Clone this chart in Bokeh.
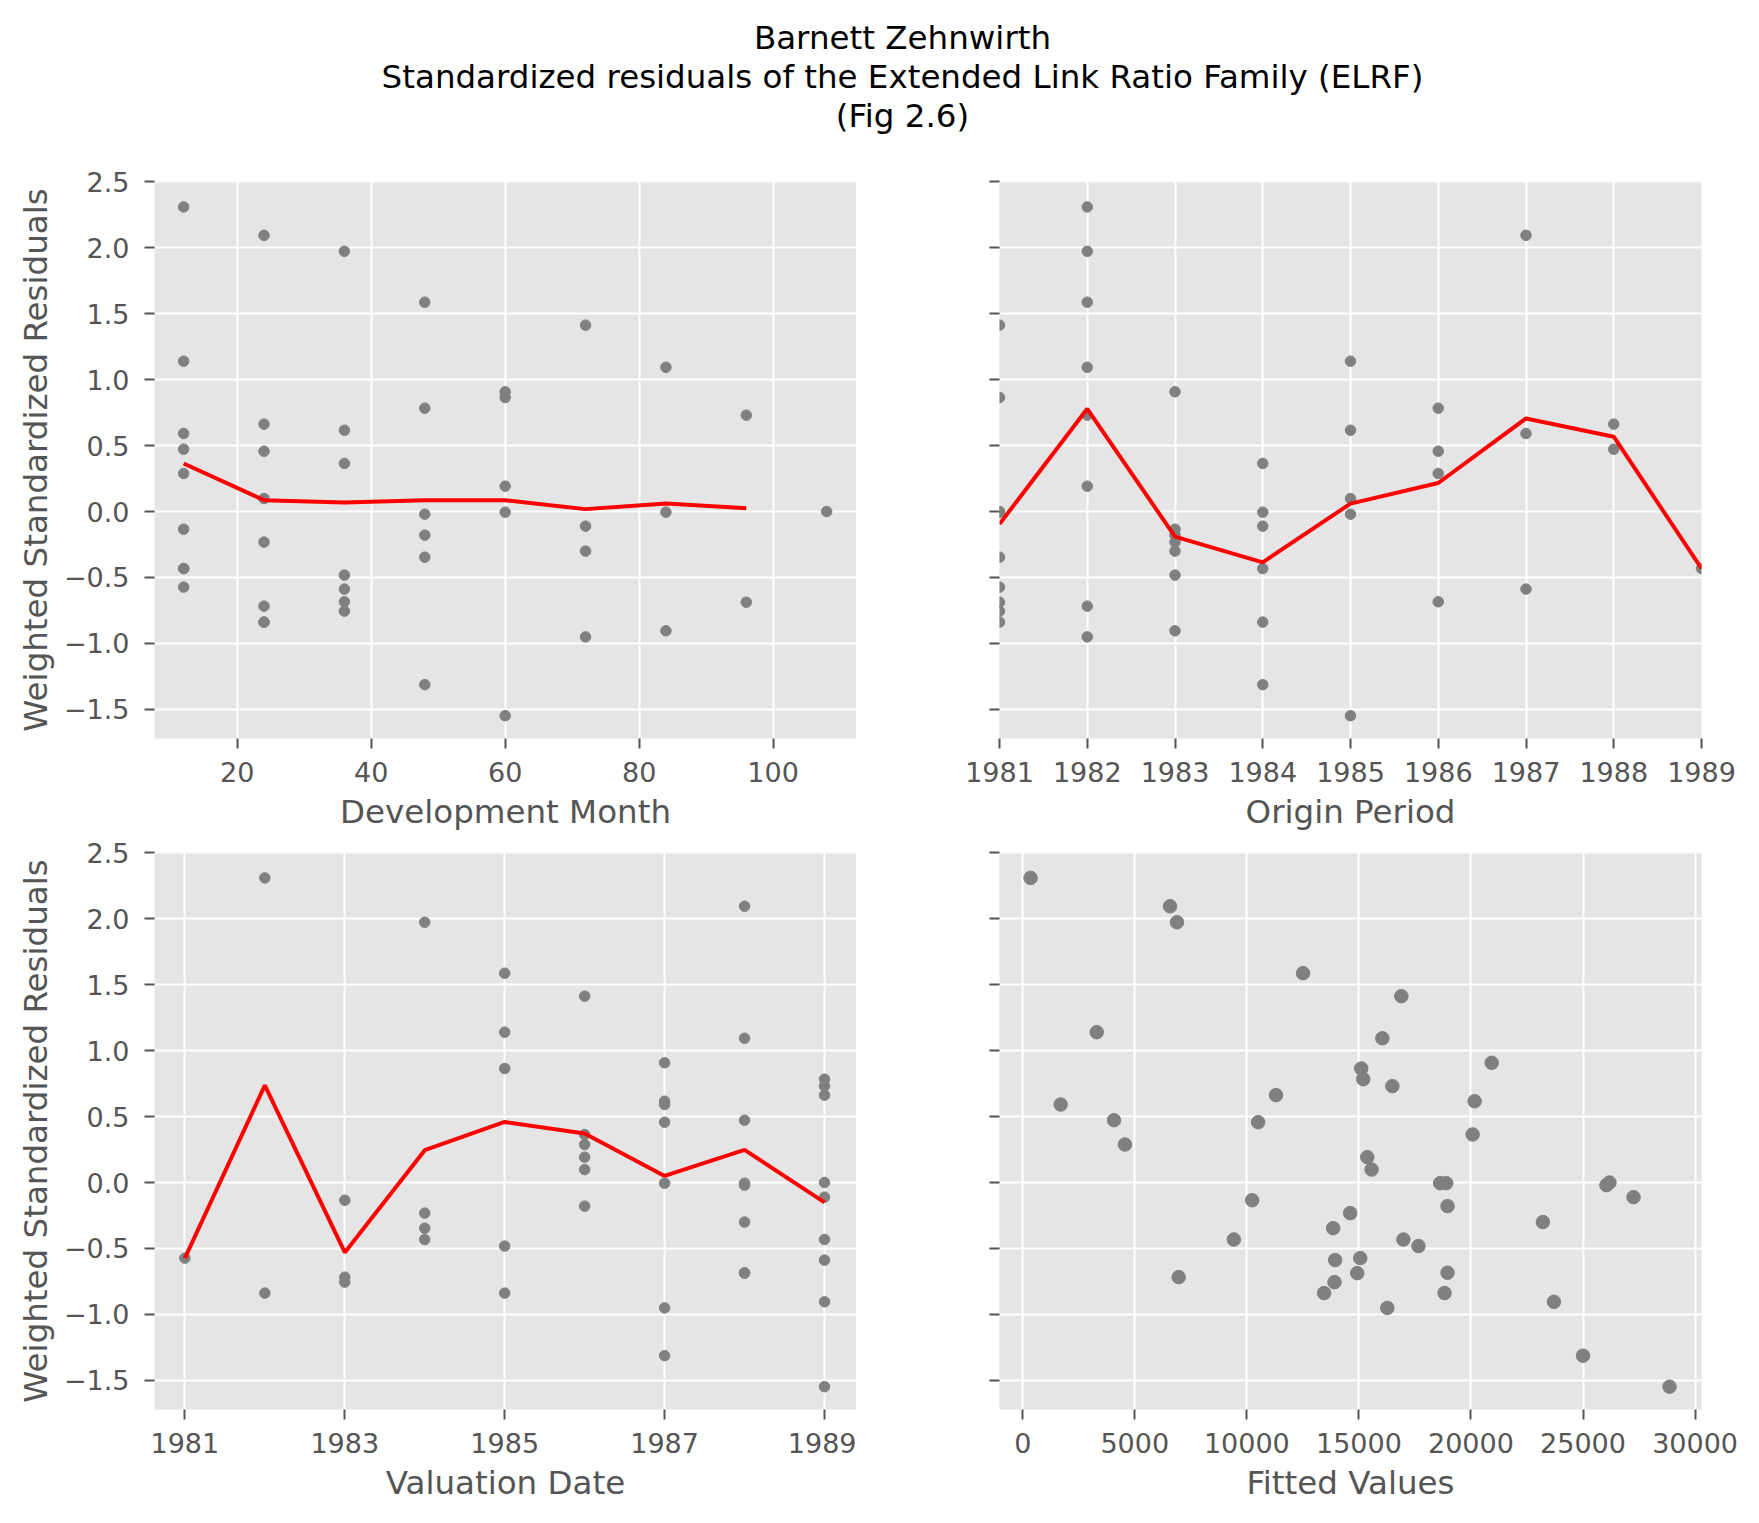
from bokeh.plotting import figure
from bokeh.models import Range1d, FixedTicker, ColumnDataSource
from bokeh.layouts import column, row
from bokeh.core.properties import value
from bokeh.embed import file_html
from bokeh.resources import INLINE

# ---------------- data ----------------
title_lines = ["Barnett Zehnwirth",
               "Standardized residuals of the Extended Link Ratio Family (ELRF)",
               "(Fig 2.6)"]

origin_years = [1981, 1982, 1983, 1984, 1985, 1986, 1987, 1988, 1989]
dev_months = [12, 24, 36, 48, 60, 72, 84, 96, 108]

# weighted standardized residuals, one list per origin (by development month)
resid_1981 = [-0.573, -0.838, -0.755, -0.346, 0.864, 1.412, -0.005, -0.687, 0.0]
resid_1982 = [2.308, -0.717, 1.972, 1.586, 0.192, -0.950, 1.093, 0.730]
resid_1983 = [-0.134, -0.232, -0.482, -0.179, 0.907, -0.300, -0.904]
resid_1984 = [-0.432, -0.838, 0.364, -1.312, -0.005, -0.111]
resid_1985 = [1.139, 0.098, 0.616, -0.020, -1.547]
resid_1986 = [0.288, 0.457, -0.684, 0.783]
resid_1987 = [0.591, 2.093, -0.588]
resid_1988 = [0.472, 0.662]
resid_1989 = [-0.432]

# fitted values, same layout
fitted_1981 = [15060, 13448, 13910, 13851, 15104, 16895, 18627, 14925, 26179]
fitted_1982 = [350, 6959, 6883, 12507, 15373, 16269, 16045, 16492]
fitted_1983 = [10237, 14612, 17657, 18955, 20925, 23209, 23701]
fitted_1984 = [9420, 18821, 20075, 25000, 18895, 27253]
fitted_1985 = [3301, 15567, 20164, 26044, 28860]
fitted_1986 = [4560, 10505, 18955, 15194]
fitted_1987 = [1693, 6574, 13940]
fitted_1988 = [4073, 11300]
fitted_1989 = [16985]

# red mean lines
dev_mean_months = [12, 24, 36, 48, 60, 72, 84, 96]
dev_mean = [0.364, 0.086, 0.068, 0.086, 0.086, 0.018, 0.061, 0.025]
origin_mean = [-0.095, 0.778, -0.19, -0.385, 0.06, 0.216, 0.705, 0.567, -0.432]
valuation_years = [1981, 1982, 1983, 1984, 1985, 1986, 1987, 1988, 1989]
valuation_mean = [-0.573, 0.736, -0.53, 0.245, 0.459, 0.371, 0.05, 0.247, -0.15]

y_ticks = [-1.5, -1.0, -0.5, 0.0, 0.5, 1.0, 1.5, 2.0, 2.5]
dev_ticks = [20, 40, 60, 80, 100]
origin_ticks = [1981, 1982, 1983, 1984, 1985, 1986, 1987, 1988, 1989]
valuation_ticks = [1981, 1983, 1985, 1987, 1989]
fitted_ticks = [0, 5000, 10000, 15000, 20000, 25000, 30000]

# ---------------- flatten ----------------
resid_rows = [resid_1981, resid_1982, resid_1983, resid_1984, resid_1985,
              resid_1986, resid_1987, resid_1988, resid_1989]
fitted_rows = [fitted_1981, fitted_1982, fitted_1983, fitted_1984, fitted_1985,
               fitted_1986, fitted_1987, fitted_1988, fitted_1989]
pts = dict(origin=[], dev=[], valuation=[], resid=[], fitted=[])
for i, (rr, ff) in enumerate(zip(resid_rows, fitted_rows)):
    for j, (r, f) in enumerate(zip(rr, ff)):
        pts["origin"].append(origin_years[i])
        pts["dev"].append(dev_months[j])
        pts["valuation"].append(origin_years[i] + j)
        pts["resid"].append(r)
        pts["fitted"].append(f)
src = ColumnDataSource(pts)

FONT = "DejaVu Sans"
GREY_TXT = "#555555"
TICK_PX = "27px"
LABEL_PX = "32.5px"


def fmt_y(v):
    return ("%.1f" % v).replace("-", "\u2212")


def panel(x_range, xticks, xlabel, show_ylabels, left, right, top, bottom):
    p = figure(frame_width=702, frame_height=557,
               x_range=x_range, y_range=Range1d(-1.72, 2.5005),
               output_backend="svg", toolbar_location=None,
               background_fill_color="#E5E5E5", border_fill_color="white",
               outline_line_color=None,
               min_border_left=left, min_border_right=right,
               min_border_top=top, min_border_bottom=bottom)
    p.xaxis.ticker = FixedTicker(ticks=xticks)
    p.yaxis.ticker = FixedTicker(ticks=y_ticks)
    p.xaxis.major_label_overrides = {t: str(int(t)) for t in xticks}
    if show_ylabels:
        p.yaxis.major_label_overrides = {t: fmt_y(t) for t in y_ticks}
        p.yaxis.axis_label = "Weighted Standardized Residuals"
    else:
        p.yaxis.major_label_overrides = {t: "" for t in y_ticks}
    p.xaxis.axis_label = xlabel
    for ax in (p.xaxis, p.yaxis):
        ax.axis_line_color = None
        ax.major_tick_line_color = GREY_TXT
        ax.major_tick_line_width = 2
        ax.major_tick_out = 10
        ax.major_tick_in = 0
        ax.minor_tick_line_color = None
        ax.major_label_text_color = GREY_TXT
        ax.major_label_text_font = FONT
        ax.major_label_text_font_size = TICK_PX
        ax.axis_label_text_color = GREY_TXT
        ax.axis_label_text_font = FONT
        ax.axis_label_text_font_size = LABEL_PX
        ax.axis_label_text_font_style = "normal"
    p.xaxis.major_label_standoff = 13
    p.xaxis.axis_label_standoff = 8
    p.yaxis.major_label_standoff = 15
    p.yaxis.axis_label_standoff = 6
    p.grid.grid_line_color = "white"
    p.grid.grid_line_width = 2
    return p


# title figure
tf = figure(width=1751, height=150, x_range=Range1d(0, 1751), y_range=Range1d(150, 0),
            output_backend="svg", toolbar_location=None,
            x_axis_location=None, y_axis_location=None,
            outline_line_color=None, min_border=0)
tf.grid.visible = False
tf.text(x=[902, 902, 902], y=[37.5, 76.5, 115.5], text=title_lines,
        text_font=value(FONT), text_font_size="32.5px", text_color="black",
        text_align="center", text_baseline="alphabetic")

# top-left: development month
p1 = panel(Range1d(7.65, 112.45), dev_ticks, "Development Month", True, 154, 0, 31, 96)
p1.scatter("dev", "resid", source=src, size=10.5, color="#808080")
p1.line(dev_mean_months, dev_mean, color="red", line_width=4)

# top-right: origin period
p2 = panel(Range1d(1981, 1989), origin_ticks, "Origin Period", False, 143, 50, 31, 96)
p2.scatter("origin", "resid", source=src, size=10.5, color="#808080")
p2.line(origin_years, origin_mean, color="red", line_width=4)

# bottom-left: valuation date
p3 = panel(Range1d(1980.62, 1989.4), valuation_ticks, "Valuation Date", True, 154, 0, 18, 98)
p3.scatter("valuation", "resid", source=src, size=10.5, color="#808080")
p3.line(valuation_years, valuation_mean, color="red", line_width=4)

# bottom-right: fitted values
p4 = panel(Range1d(-1036, 30286), fitted_ticks, "Fitted Values", False, 143, 50, 18, 98)
p4.scatter("fitted", "resid", source=src, size=13.5, color="#808080")

layout = column(tf, row(p1, p2), row(p3, p4))
open("out.html", "w").write(file_html(layout, INLINE))
